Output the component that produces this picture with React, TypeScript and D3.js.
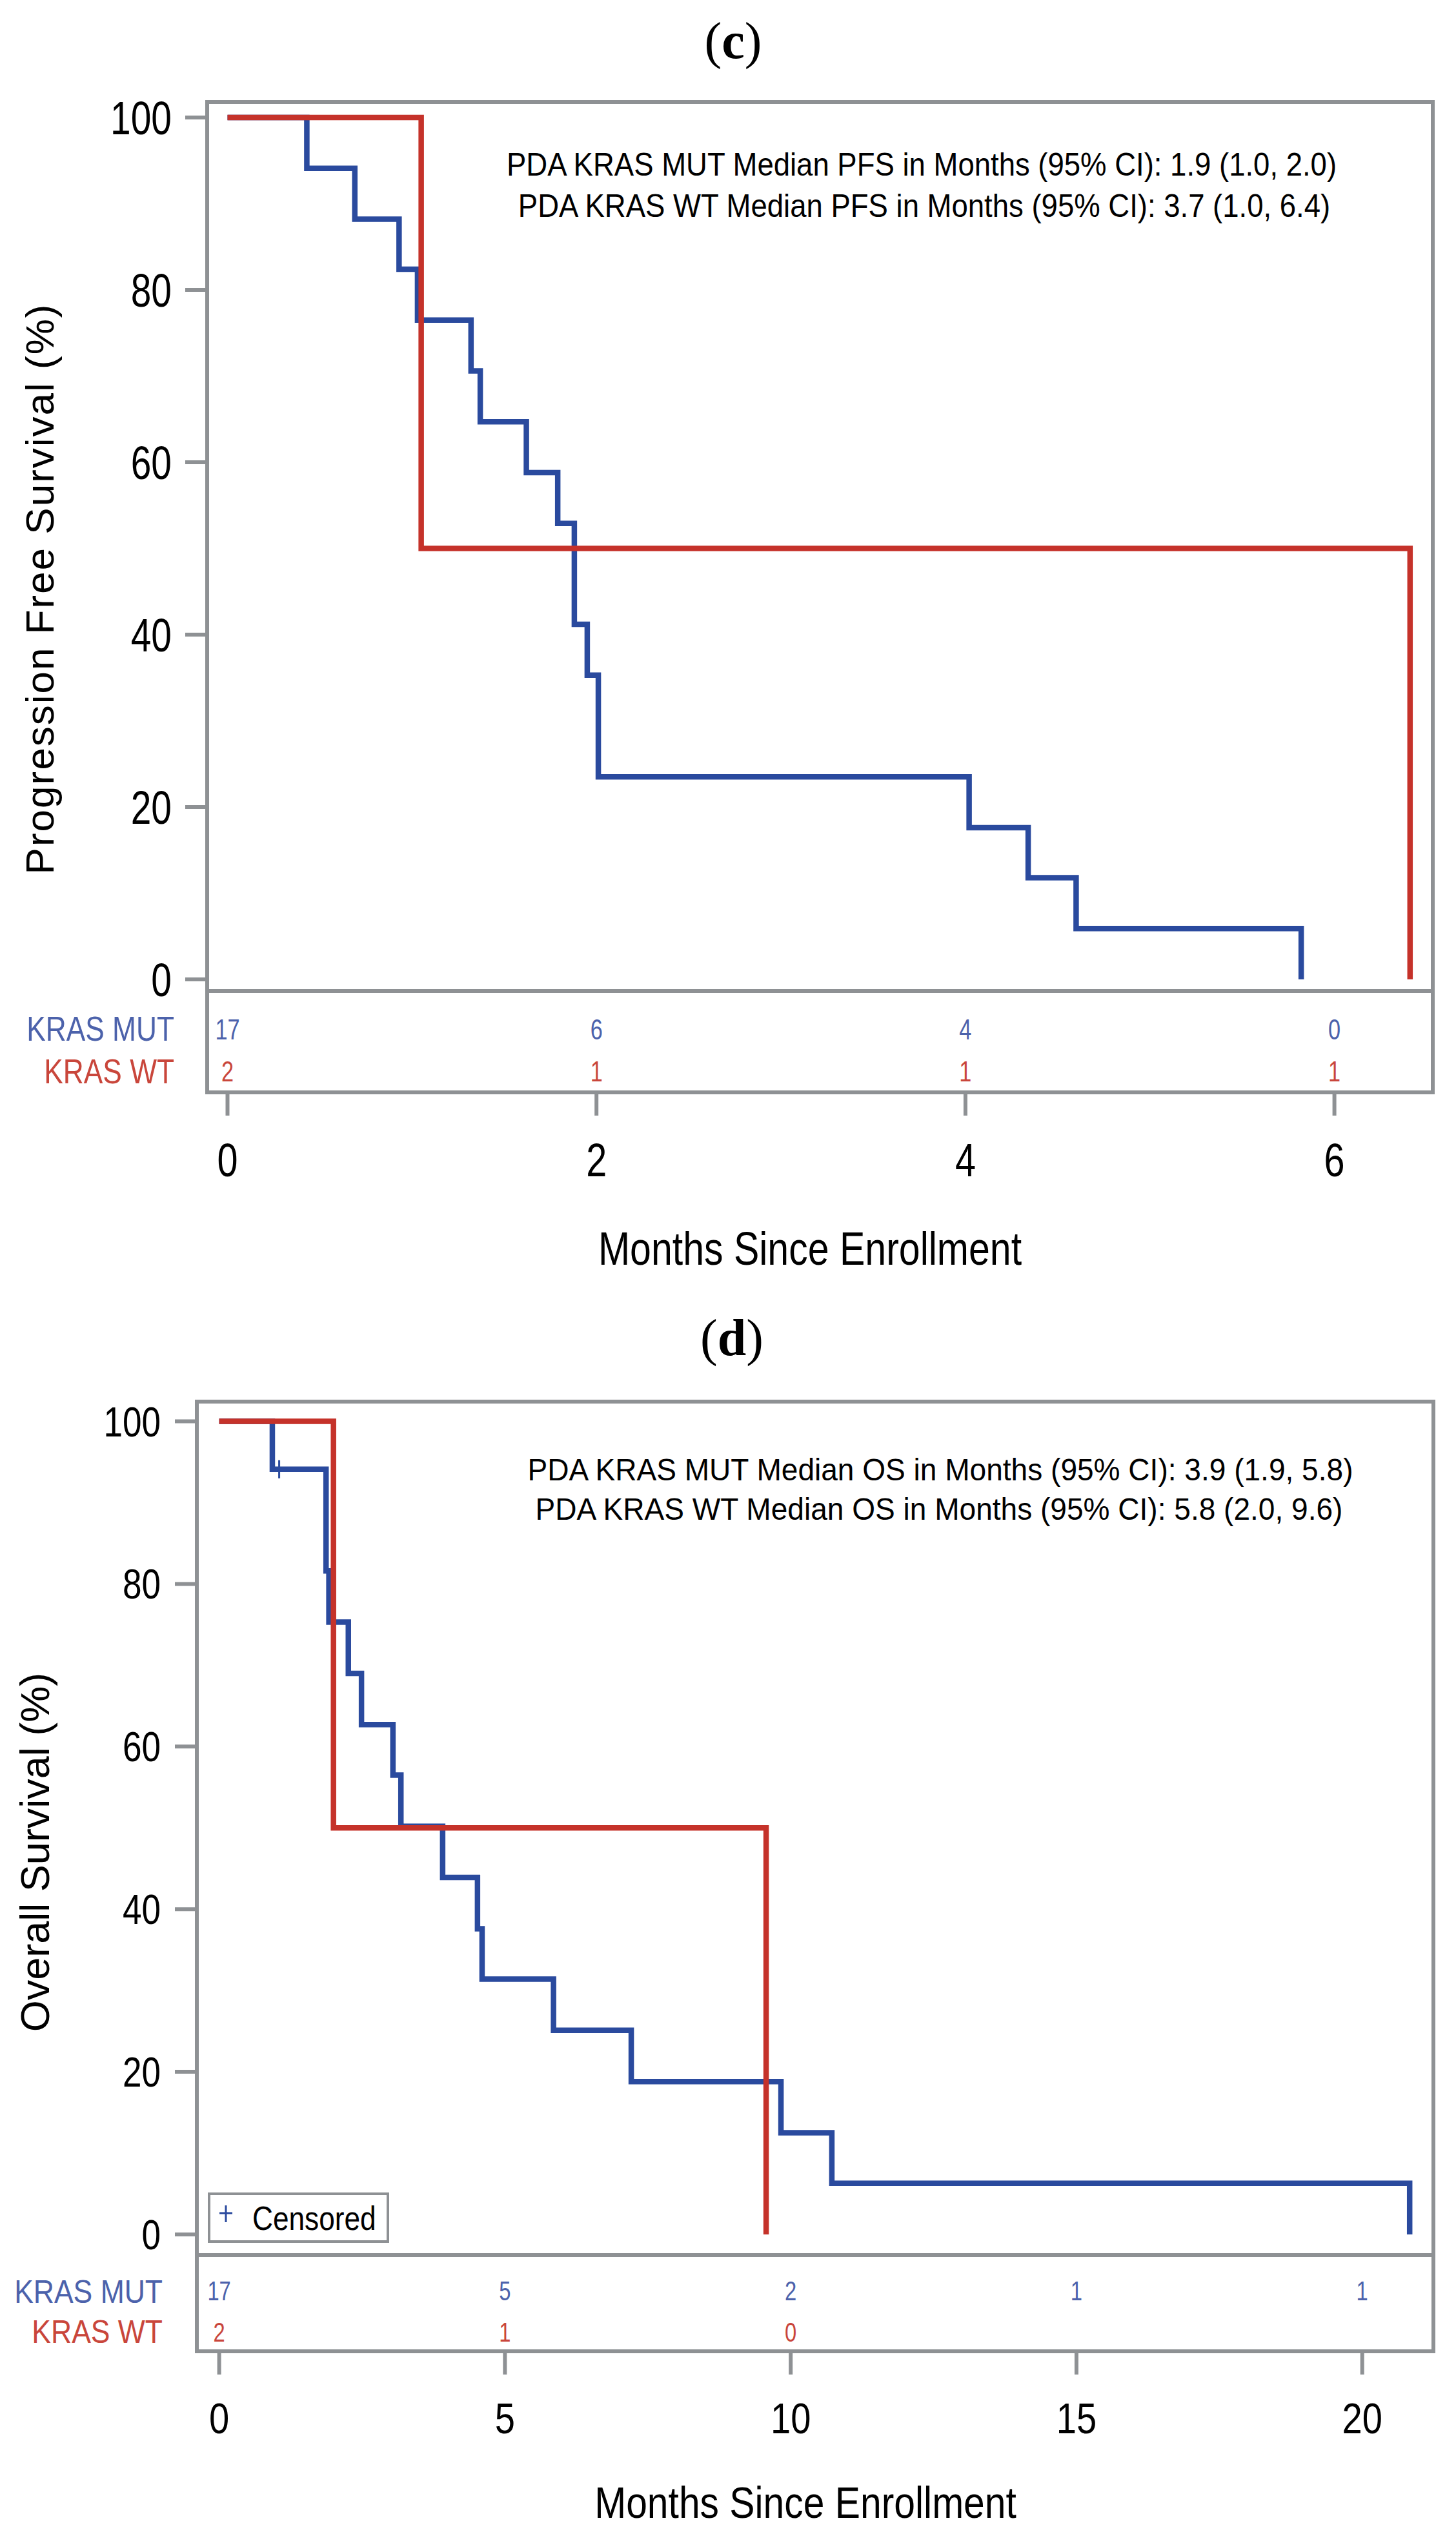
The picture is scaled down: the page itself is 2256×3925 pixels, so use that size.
import React from "react";
import * as d3 from "d3";

// ---- data ----
// (c) progression free survival
const pfsMutTimes = [0, 0.43, 0.69, 0.93, 1.03, 1.32, 1.37, 1.62, 1.79, 1.88, 1.95, 2.01, 4.02, 4.34, 4.6, 5.82];
const pfsMutSurv = [100, 94.1, 88.2, 82.4, 76.5, 70.6, 64.7, 58.8, 52.9, 41.2, 35.3, 23.5, 17.6, 11.8, 5.9, 0];
const pfsWtTimes = [0, 1.05, 6.41];
const pfsWtSurv = [100, 50, 0];
const pfsTicks = [0, 2, 4, 6];
const pfsRiskMut = [17, 6, 4, 0];
const pfsRiskWt = [2, 1, 1, 1];
const pfsNotes = [
  "PDA KRAS MUT Median PFS in Months (95% CI): 1.9 (1.0, 2.0)",
  "PDA KRAS WT Median PFS in Months (95% CI): 3.7 (1.0, 6.4)",
];

// (d) overall survival
const osMutTimes = [0, 0.93, 1.87, 1.92, 2.26, 2.49, 3.04, 3.18, 3.91, 4.52, 4.6, 5.85, 7.21, 9.83, 10.72, 20.83];
const osMutSurv = [100, 94.1, 81.6, 75.3, 69.0, 62.7, 56.5, 50.2, 43.9, 37.6, 31.4, 25.1, 18.8, 12.5, 6.3, 0];
const osMutCensorTimes = [1.05];
const osMutCensorSurv = [94.1];
const osWtTimes = [0, 2.0, 9.57];
const osWtSurv = [100, 50, 0];
const osTicks = [0, 5, 10, 15, 20];
const osRiskMut = [17, 5, 2, 1, 1];
const osRiskWt = [2, 1, 0];
const osNotes = [
  "PDA KRAS MUT Median OS in Months (95% CI): 3.9 (1.9, 5.8)",
  "PDA KRAS WT Median OS in Months (95% CI): 5.8 (2.0, 9.6)",
];

const yTicks = [0, 20, 40, 60, 80, 100];
const groups = ["KRAS MUT", "KRAS WT"];

const BLUE = "#2a4a9e";
const RED = "#c5322a";
const BLUE_TXT = "#4c62ab";
const RED_TXT = "#c9463b";
const GRAY = "#8e9194";
const SANS = "'Liberation Sans', Arial, sans-serif";

type Txt = {
  x: number;
  y: number;
  size: number;
  sx?: number;
  anchor?: "start" | "middle" | "end";
  fill?: string;
  children: React.ReactNode;
};

// condensed text: the source figure is squeezed horizontally
const CText: React.FC<Txt> = ({ x, y, size, sx = 1, anchor = "start", fill = "#000", children }) => (
  <text
    transform={`translate(${x},${y}) scale(${sx},1)`}
    textAnchor={anchor}
    fontSize={size}
    fontFamily={SANS}
    fill={fill}
  >
    {children}
  </text>
);

interface PanelProps {
  label: string;
  labelX: number;
  labelY: number;
  frame: { x0: number; x1: number; y0: number; y1: number; sep: number };
  xRange: [number, number];
  xDomain: [number, number];
  xTicks: number[];
  yRange: [number, number];
  yTick: { size: number; sx: number; right: number };
  xTick: { size: number; sx: number; y: number };
  xTitle: { x: number; y: number; size: number; sx: number };
  yTitle: { text: string; x: number; y: number; size: number; spacing: number };
  notes: string[];
  noteX: number[];
  noteY: number[];
  noteSize: number;
  noteSx: number;
  mut: { t: number[]; s: number[] };
  wt: { t: number[]; s: number[] };
  censor?: { t: number[]; s: number[] };
  riskMut: number[];
  riskWt: number[];
  risk: { right: number; labelY: number[]; labelSize: number; labelSx: number; numY: number[]; numSize: number; numSx: number };
  legend?: { x0: number; x1: number; y0: number; y1: number };
}

const Panel: React.FC<PanelProps> = (p) => {
  const x = d3.scaleLinear().domain(p.xDomain).range(p.xRange);
  const y = d3.scaleLinear().domain([0, 100]).range(p.yRange);
  const line = d3
    .line<[number, number]>()
    .x((d) => x(d[0]))
    .y((d) => y(d[1]))
    .curve(d3.curveStepAfter);
  const pts = (t: number[], s: number[]) => t.map((v, i) => [v, s[i]] as [number, number]);
  const f = p.frame;

  return (
    <g>
      <text x={p.labelX} y={p.labelY} textAnchor="middle" fontSize={80} fontFamily="'Liberation Serif', 'Times New Roman', serif">
        (<tspan fontWeight="bold">{p.label}</tspan>)
      </text>

      {/* curves */}
      <path d={line(pts(p.mut.t, p.mut.s)) || ""} fill="none" stroke={BLUE} strokeWidth={8.5} />
      <path d={line(pts(p.wt.t, p.wt.s)) || ""} fill="none" stroke={RED} strokeWidth={8.5} />
      {p.censor &&
        p.censor.t.map((t, i) => (
          <g key={i} stroke={BLUE} strokeWidth={3}>
            <line x1={x(t) - 11} x2={x(t) + 11} y1={y(p.censor!.s[i])} y2={y(p.censor!.s[i])} />
            <line x1={x(t)} x2={x(t)} y1={y(p.censor!.s[i]) - 14} y2={y(p.censor!.s[i]) + 14} />
          </g>
        ))}

      {/* frame */}
      <rect x={f.x0} y={f.y0} width={f.x1 - f.x0} height={f.y1 - f.y0} fill="none" stroke={GRAY} strokeWidth={6} />
      <line x1={f.x0} x2={f.x1} y1={f.sep} y2={f.sep} stroke={GRAY} strokeWidth={6} />

      {/* y axis */}
      {yTicks.map((v) => (
        <g key={v}>
          <line x1={f.x0 - 34} x2={f.x0} y1={y(v)} y2={y(v)} stroke={GRAY} strokeWidth={6} />
          <CText x={p.yTick.right} y={y(v) + p.yTick.size * 0.36} size={p.yTick.size} sx={p.yTick.sx} anchor="end">
            {v}
          </CText>
        </g>
      ))}
      <text
        transform={`translate(${p.yTitle.x},${p.yTitle.y}) rotate(-90)`}
        textAnchor="middle"
        fontSize={p.yTitle.size}
        letterSpacing={p.yTitle.spacing}
        fontFamily={SANS}
      >
        {p.yTitle.text}
      </text>

      {/* x axis */}
      {p.xTicks.map((v) => (
        <g key={v}>
          <line x1={x(v)} x2={x(v)} y1={f.y1} y2={f.y1 + 36} stroke={GRAY} strokeWidth={6} />
          <CText x={x(v)} y={p.xTick.y} size={p.xTick.size} sx={p.xTick.sx} anchor="middle">
            {v}
          </CText>
        </g>
      ))}
      <CText x={p.xTitle.x} y={p.xTitle.y} size={p.xTitle.size} sx={p.xTitle.sx} anchor="middle">
        Months Since Enrollment
      </CText>

      {/* medians */}
      {p.notes.map((n, i) => (
        <CText key={i} x={p.noteX[i]} y={p.noteY[i]} size={p.noteSize} sx={p.noteSx} anchor="middle">
          {n}
        </CText>
      ))}

      {/* at risk table */}
      {groups.map((g, i) => (
        <CText
          key={g}
          x={p.risk.right}
          y={p.risk.labelY[i]}
          size={p.risk.labelSize}
          sx={p.risk.labelSx}
          anchor="end"
          fill={i === 0 ? BLUE_TXT : RED_TXT}
        >
          {g}
        </CText>
      ))}
      {p.riskMut.map((n, i) => (
        <CText key={"m" + i} x={x(p.xTicks[i])} y={p.risk.numY[0]} size={p.risk.numSize} sx={p.risk.numSx} anchor="middle" fill={BLUE_TXT}>
          {n}
        </CText>
      ))}
      {p.riskWt.map((n, i) => (
        <CText key={"w" + i} x={x(p.xTicks[i])} y={p.risk.numY[1]} size={p.risk.numSize} sx={p.risk.numSx} anchor="middle" fill={RED_TXT}>
          {n}
        </CText>
      ))}

      {p.legend && (
        <g>
          <rect
            x={p.legend.x0}
            y={p.legend.y0}
            width={p.legend.x1 - p.legend.x0}
            height={p.legend.y1 - p.legend.y0}
            fill="#fff"
            stroke={GRAY}
            strokeWidth={4}
          />
          <g stroke={BLUE} strokeWidth={3}>
            <line x1={p.legend.x0 + 16} x2={p.legend.x0 + 36} y1={p.legend.y0 + 30} y2={p.legend.y0 + 30} />
            <line x1={p.legend.x0 + 26} x2={p.legend.x0 + 26} y1={p.legend.y0 + 18} y2={p.legend.y0 + 44} />
          </g>
          <CText x={p.legend.x0 + 67} y={p.legend.y1 - 18} size={52} sx={0.85}>
            Censored
          </CText>
        </g>
      )}
    </g>
  );
};

const App: React.FC = () => (
  <svg
    width={2256}
    height={3925}
    viewBox="0 0 2256 3925"
    style={{ position: "absolute", left: 0, top: 0, background: "#fff" }}
  >
    <rect width={2256} height={3925} fill="#fff" />
    <Panel
      label="c"
      labelX={1136}
      labelY={90}
      frame={{ x0: 321, x1: 2220, y0: 158, y1: 1692, sep: 1535 }}
      xRange={[352.5, 2067.6]}
      xDomain={[0, 6]}
      xTicks={pfsTicks}
      yRange={[1517, 182]}
      yTick={{ size: 72, sx: 0.79, right: 266 }}
      xTick={{ size: 72, sx: 0.8, y: 1822 }}
      xTitle={{ x: 1255, y: 1959, size: 72, sx: 0.82 }}
      yTitle={{ text: "Progression Free Survival (%)", x: 83, y: 912, size: 62, spacing: 2 }}
      notes={pfsNotes}
      noteX={[1428, 1432]}
      noteY={[272, 336]}
      noteSize={50}
      noteSx={0.91}
      mut={{ t: pfsMutTimes, s: pfsMutSurv }}
      wt={{ t: pfsWtTimes, s: pfsWtSurv }}
      riskMut={pfsRiskMut}
      riskWt={pfsRiskWt}
      risk={{ right: 270, labelY: [1612, 1678], labelSize: 54, labelSx: 0.82, numY: [1610, 1675], numSize: 44, numSx: 0.78 }}
    />
    <Panel
      label="d"
      labelX={1134}
      labelY={2099}
      frame={{ x0: 305, x1: 2221, y0: 2171, y1: 3642, sep: 3493 }}
      xRange={[339.6, 2110.7]}
      xDomain={[0, 20]}
      xTicks={osTicks}
      yRange={[3461, 2201.5]}
      yTick={{ size: 64, sx: 0.83, right: 249 }}
      xTick={{ size: 66, sx: 0.85, y: 3769 }}
      xTitle={{ x: 1248, y: 3900, size: 68, sx: 0.865 }}
      yTitle={{ text: "Overall Survival (%)", x: 76, y: 2869, size: 63, spacing: 0 }}
      notes={osNotes}
      noteX={[1457, 1455]}
      noteY={[2293, 2354]}
      noteSize={49}
      noteSx={0.94}
      mut={{ t: osMutTimes, s: osMutSurv }}
      wt={{ t: osWtTimes, s: osWtSurv }}
      censor={{ t: osMutCensorTimes, s: osMutCensorSurv }}
      riskMut={osRiskMut}
      riskWt={osRiskWt}
      risk={{ right: 252, labelY: [3567, 3629], labelSize: 50, labelSx: 0.89, numY: [3563, 3627], numSize: 42, numSx: 0.78 }}
      legend={{ x0: 324, x1: 601, y0: 3398, y1: 3472 }}
    />
  </svg>
);

export default App;
